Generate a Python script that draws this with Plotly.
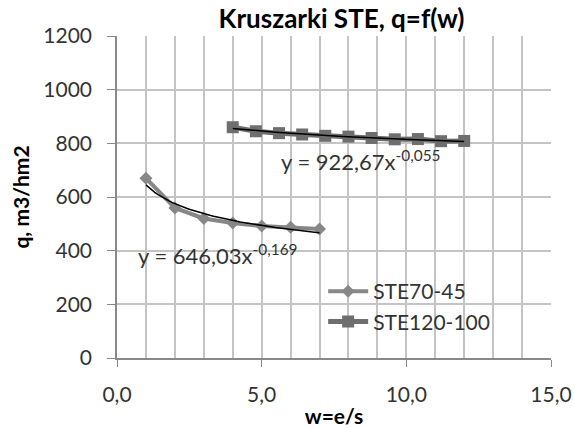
import numpy as np
import plotly.graph_objects as go

# Data
w_ste70 = [1, 2, 3, 4, 5, 6, 7]
q_ste70 = [670, 559, 520, 503, 492, 487, 481]
w_ste120 = [4, 4.8, 5.6, 6.4, 7.2, 8.0, 8.8, 9.6, 10.4, 11.2, 12.0]
q_ste120 = [860, 845, 838, 833, 828, 825, 820, 815, 816, 808, 809]
eq_ste70 = "y = 646,03x<sup>-0,169</sup>"
eq_ste120 = "y = 922,67x<sup>-0,055</sup>"

FONT = "Lato"

def power_fit(x, y):
    b, ln_a = np.polyfit(np.log(x), np.log(y), 1)
    xs = np.linspace(min(x), max(x), 60)
    return xs, np.exp(ln_a) * xs ** b

fig = go.Figure()
fig.add_trace(go.Scatter(x=w_ste70, y=q_ste70, mode="lines+markers", name="STE70-45",
                         line=dict(color="#878787", width=4),
                         marker=dict(symbol="diamond", size=10, color="#878787")))
fig.add_trace(go.Scatter(x=w_ste120, y=q_ste120, mode="lines+markers", name="STE120-100",
                         line=dict(color="#6e6e6e", width=5),
                         marker=dict(symbol="square", size=12, color="#6e6e6e")))
for xs, ys in (power_fit(w_ste70, q_ste70), power_fit(w_ste120, q_ste120)):
    fig.add_trace(go.Scatter(x=xs, y=ys, mode="lines", showlegend=False,
                             line=dict(color="black", width=1.5), hoverinfo="skip"))

fig.add_annotation(x=3.5, y=385, text=eq_ste70, showarrow=False, xanchor="center",
                   yanchor="middle", font=dict(family=FONT, size=22, color="#333333"))
fig.add_annotation(x=8.45, y=735, text=eq_ste120, showarrow=False, xanchor="center",
                   yanchor="middle", font=dict(family=FONT, size=22, color="#333333"))

fig.update_layout(
    width=574, height=429,
    margin=dict(l=117, r=23, t=36, b=71),
    paper_bgcolor="white", plot_bgcolor="white",
    font=dict(family=FONT, size=21, color="#333333"),
    title=dict(text="<b>Kruszarki STE, q=f(w)</b>", x=0.595, xanchor="center",
               y=0.955, yanchor="middle", font=dict(family=FONT, size=26, color="black")),
    legend=dict(x=0.475, y=0.27, xanchor="left", yanchor="top", bgcolor="rgba(0,0,0,0)",
                font=dict(family=FONT, size=21, color="#333333"), tracegroupgap=0,
                itemwidth=40),
    showlegend=True,
)
fig.update_xaxes(range=[0, 15], dtick=5, tickformat=".1f", automargin=False,
                 showgrid=True, gridcolor="#c4c4c4", gridwidth=1.5,
                 minor=dict(dtick=1, showgrid=True, gridcolor="#c4c4c4", gridwidth=1.5),
                 showline=True, linecolor="#888888", linewidth=1.5,
                 ticks="outside", ticklen=7, tickcolor="#888888", ticklabelstandoff=10,
                 title=dict(text="<b>w=e/s</b>", font=dict(family=FONT, size=21, color="black"), standoff=4),
                 zeroline=False)
fig.update_yaxes(range=[0, 1200], dtick=200, automargin=False,
                 showgrid=True, gridcolor="#c4c4c4", gridwidth=1.5,
                 showline=True, linecolor="#888888", linewidth=1.5,
                 ticks="outside", ticklen=8, tickcolor="#888888", ticklabelstandoff=11,
                 title=dict(text="<b>q, m3/hm2</b>", font=dict(family=FONT, size=21, color="black"), standoff=8),
                 zeroline=False)
fig.update_layout(separators=", ")
fig.write_html("out.html")
